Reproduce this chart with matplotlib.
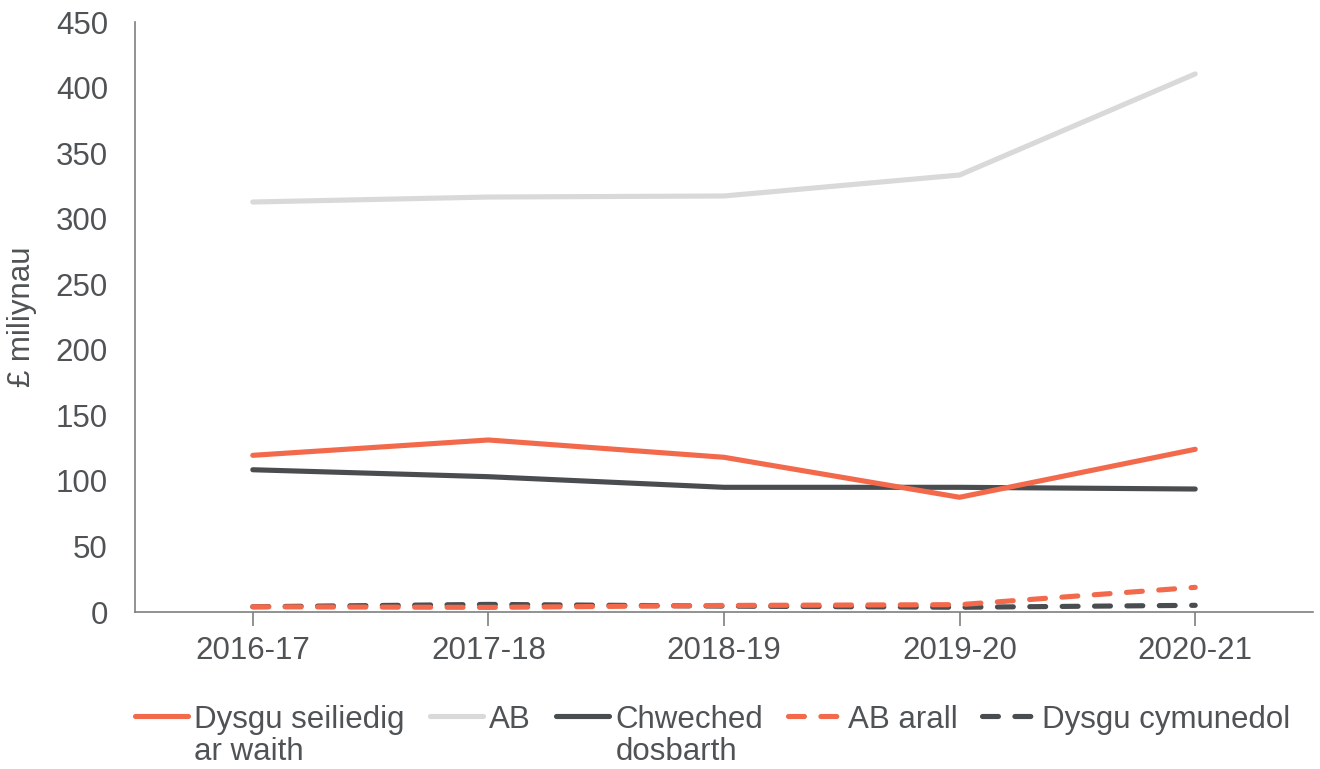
import matplotlib
matplotlib.use("Agg")
import matplotlib.pyplot as plt

years = ["2016-17", "2017-18", "2018-19", "2019-20", "2020-21"]
dysgu_seiliedig = [119.5, 131.2, 118.0, 87.5, 124.1]
ab = [312.7, 316.5, 317.3, 333.3, 410.4]
chweched = [108.5, 103.2, 95.1, 95.1, 93.8]
ab_arall = [4.0, 3.5, 5.0, 5.6, 18.8]
dysgu_cymunedol = [4.0, 5.8, 4.5, 3.6, 5.1]

labels = ["Dysgu seiliedig\nar waith", "AB", "Chweched\ndosbarth", "AB arall", "Dysgu cymunedol"]

ORANGE = "#F26A4B"
LIGHT = "#D9D9D9"
DARK = "#4A4D50"
TEXT = "#505355"
FS = 22.5

plt.rcParams['font.family'] = ['Liberation Sans', 'DejaVu Sans']

fig = plt.figure(figsize=(13.2, 7.69), dpi=100)
ax = fig.add_axes([135/1320, 1 - 612/769, (1313-135)/1320, (612-22)/769])

x = list(range(len(years)))
lw = 3.7
dash = (0, (3.1, 3.2))
ax.plot(x, dysgu_seiliedig, color=ORANGE, lw=lw, label=labels[0], solid_capstyle='round', zorder=3)
ax.plot(x, ab, color=LIGHT, lw=lw, label=labels[1], solid_capstyle='round', zorder=3)
ax.plot(x, chweched, color=DARK, lw=lw, label=labels[2], solid_capstyle='round', zorder=2)
ax.plot(x, ab_arall, color=ORANGE, lw=lw, ls=dash, label=labels[3], dash_capstyle='round', zorder=3)
ax.plot(x, dysgu_cymunedol, color=DARK, lw=lw, ls=dash, label=labels[4], dash_capstyle='round', zorder=2)

ax.set_xlim(-0.5, 4.5)
ax.set_ylim(0, 450)
ax.set_yticks(range(0, 451, 50))
ax.set_xticks(x)
ax.set_xticklabels(years)

for s in ["top", "right"]:
    ax.spines[s].set_visible(False)
ax.spines["left"].set_color("#7F7F7F")
ax.spines["left"].set_linewidth(1.2)
ax.spines["bottom"].set_color("#7F7F7F")
ax.spines["bottom"].set_linewidth(1.2)

ax.tick_params(axis='y', length=0, labelsize=FS, labelcolor=TEXT, pad=19.5)
ax.tick_params(axis='x', length=10, width=1.2, color="#7F7F7F", labelsize=FS, labelcolor=TEXT, pad=7, direction='out')

ax.set_ylabel("£ miliynau", fontsize=FS, color=TEXT)
ax.yaxis.set_label_coords(-(135 - 37) / 1178, 0.5)

leg = fig.legend(loc='upper left', bbox_to_anchor=(135/1320, 1 - 705/769), ncol=5, frameon=False,
                 fontsize=FS, handlelength=1.7, handletextpad=0.2, columnspacing=0.8,
                 labelcolor=TEXT, borderpad=0, borderaxespad=0)
leg._legend_handle_box.align = 'top'
for col in leg._legend_handle_box.get_children():
    col.align = 'top'
    for item in col.get_children():
        item.align = 'top'
for t in leg.get_texts():
    t.set_linespacing(1.08)

fig.savefig("out.png", dpi=100)
